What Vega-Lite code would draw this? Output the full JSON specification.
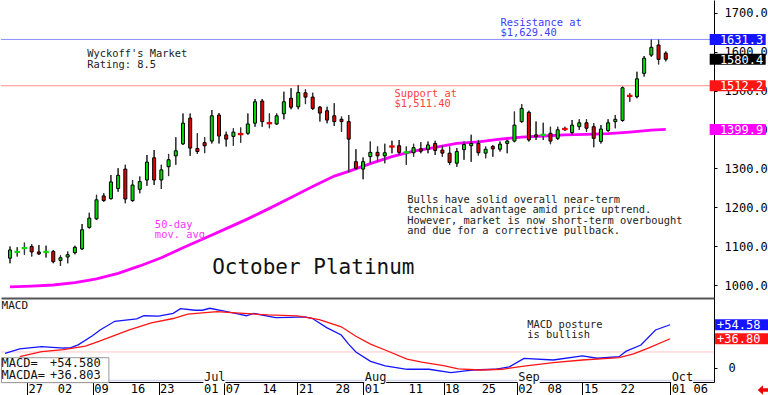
{
"$schema": "https://vega.github.io/schema/vega-lite/v6.json",
"padding": 0,
"background": "white",
"spacing": 0,
"bounds": "flush",
"config": {"view": {"stroke": null}, "font": "DejaVu Sans Mono", "axis": {"grid": false, "title": null, "labelOverlap": false}},
"datasets": {
"candles": [
{"d":0,"date":"2025-05-21","o":1069,"h":1099,"l":1056,"c":1090},
{"d":1,"date":"2025-05-22","o":1084,"h":1097,"l":1073,"c":1086},
{"d":2,"date":"2025-05-23","o":1094,"h":1109,"l":1078,"c":1096},
{"d":3,"date":"2025-05-27","o":1099,"h":1105,"l":1073,"c":1085},
{"d":4,"date":"2025-05-28","o":1085,"h":1103,"l":1077,"c":1080},
{"d":5,"date":"2025-05-29","o":1084,"h":1101,"l":1071,"c":1086},
{"d":6,"date":"2025-05-30","o":1086,"h":1090,"l":1056,"c":1060},
{"d":7,"date":"2025-06-02","o":1063,"h":1076,"l":1049,"c":1070},
{"d":8,"date":"2025-06-03","o":1072,"h":1086,"l":1056,"c":1078},
{"d":9,"date":"2025-06-04","o":1083,"h":1101,"l":1079,"c":1097},
{"d":10,"date":"2025-06-05","o":1093,"h":1157,"l":1090,"c":1142},
{"d":11,"date":"2025-06-06","o":1148,"h":1186,"l":1145,"c":1172},
{"d":12,"date":"2025-06-09","o":1170,"h":1232,"l":1167,"c":1219},
{"d":13,"date":"2025-06-10","o":1229,"h":1236,"l":1214,"c":1217},
{"d":14,"date":"2025-06-11","o":1222,"h":1283,"l":1220,"c":1265},
{"d":15,"date":"2025-06-12","o":1248,"h":1300,"l":1240,"c":1282},
{"d":16,"date":"2025-06-13","o":1298,"h":1309,"l":1210,"c":1221},
{"d":17,"date":"2025-06-16","o":1217,"h":1270,"l":1214,"c":1257},
{"d":18,"date":"2025-06-17","o":1246,"h":1279,"l":1236,"c":1266},
{"d":19,"date":"2025-06-18","o":1270,"h":1334,"l":1255,"c":1316},
{"d":20,"date":"2025-06-20","o":1327,"h":1347,"l":1257,"c":1270},
{"d":21,"date":"2025-06-23","o":1270,"h":1309,"l":1247,"c":1296},
{"d":22,"date":"2025-06-24","o":1304,"h":1337,"l":1280,"c":1322},
{"d":23,"date":"2025-06-25","o":1332,"h":1380,"l":1309,"c":1345},
{"d":24,"date":"2025-06-26","o":1363,"h":1441,"l":1360,"c":1416},
{"d":25,"date":"2025-06-27","o":1429,"h":1441,"l":1332,"c":1352},
{"d":26,"date":"2025-06-30","o":1351,"h":1390,"l":1337,"c":1343},
{"d":27,"date":"2025-07-01","o":1366,"h":1380,"l":1339,"c":1358},
{"d":28,"date":"2025-07-02","o":1370,"h":1450,"l":1364,"c":1435},
{"d":29,"date":"2025-07-03","o":1437,"h":1442,"l":1364,"c":1383},
{"d":30,"date":"2025-07-07","o":1386,"h":1394,"l":1356,"c":1375},
{"d":31,"date":"2025-07-08","o":1382,"h":1403,"l":1358,"c":1393},
{"d":32,"date":"2025-07-09","o":1389,"h":1405,"l":1366,"c":1387},
{"d":33,"date":"2025-07-10","o":1390,"h":1441,"l":1386,"c":1414},
{"d":34,"date":"2025-07-11","o":1416,"h":1478,"l":1407,"c":1471},
{"d":35,"date":"2025-07-14","o":1473,"h":1478,"l":1407,"c":1420},
{"d":36,"date":"2025-07-15","o":1417,"h":1441,"l":1403,"c":1415},
{"d":37,"date":"2025-07-16","o":1414,"h":1441,"l":1411,"c":1435},
{"d":38,"date":"2025-07-17","o":1440,"h":1497,"l":1426,"c":1471},
{"d":39,"date":"2025-07-18","o":1480,"h":1506,"l":1452,"c":1457},
{"d":40,"date":"2025-07-21","o":1458,"h":1514,"l":1452,"c":1495},
{"d":41,"date":"2025-07-22","o":1494,"h":1503,"l":1465,"c":1483},
{"d":42,"date":"2025-07-23","o":1483,"h":1494,"l":1450,"c":1454},
{"d":43,"date":"2025-07-24","o":1457,"h":1460,"l":1420,"c":1442},
{"d":44,"date":"2025-07-25","o":1448,"h":1458,"l":1416,"c":1424},
{"d":45,"date":"2025-07-28","o":1435,"h":1467,"l":1409,"c":1420},
{"d":46,"date":"2025-07-29","o":1426,"h":1433,"l":1394,"c":1420},
{"d":47,"date":"2025-07-30","o":1420,"h":1437,"l":1290,"c":1375},
{"d":48,"date":"2025-07-31","o":1317,"h":1349,"l":1296,"c":1300},
{"d":49,"date":"2025-08-01","o":1298,"h":1328,"l":1272,"c":1317},
{"d":50,"date":"2025-08-04","o":1330,"h":1369,"l":1313,"c":1341},
{"d":51,"date":"2025-08-05","o":1341,"h":1356,"l":1317,"c":1332},
{"d":52,"date":"2025-08-06","o":1332,"h":1363,"l":1313,"c":1340},
{"d":53,"date":"2025-08-07","o":1357,"h":1371,"l":1339,"c":1355},
{"d":54,"date":"2025-08-08","o":1358,"h":1373,"l":1334,"c":1341},
{"d":55,"date":"2025-08-11","o":1340,"h":1356,"l":1309,"c":1342},
{"d":56,"date":"2025-08-12","o":1340,"h":1363,"l":1330,"c":1353},
{"d":57,"date":"2025-08-13","o":1350,"h":1367,"l":1339,"c":1344},
{"d":58,"date":"2025-08-14","o":1349,"h":1369,"l":1339,"c":1360},
{"d":59,"date":"2025-08-15","o":1364,"h":1371,"l":1334,"c":1346},
{"d":60,"date":"2025-08-18","o":1347,"h":1358,"l":1330,"c":1339},
{"d":61,"date":"2025-08-19","o":1339,"h":1356,"l":1309,"c":1315},
{"d":62,"date":"2025-08-20","o":1313,"h":1352,"l":1304,"c":1343},
{"d":63,"date":"2025-08-21","o":1348,"h":1369,"l":1322,"c":1361},
{"d":64,"date":"2025-08-22","o":1358,"h":1386,"l":1317,"c":1364},
{"d":65,"date":"2025-08-25","o":1364,"h":1373,"l":1333,"c":1340},
{"d":66,"date":"2025-08-26","o":1339,"h":1356,"l":1326,"c":1349},
{"d":67,"date":"2025-08-27","o":1356,"h":1360,"l":1330,"c":1350},
{"d":68,"date":"2025-08-28","o":1349,"h":1369,"l":1343,"c":1362},
{"d":69,"date":"2025-08-29","o":1364,"h":1373,"l":1339,"c":1370},
{"d":70,"date":"2025-09-02","o":1370,"h":1446,"l":1367,"c":1411},
{"d":71,"date":"2025-09-03","o":1420,"h":1465,"l":1417,"c":1454},
{"d":72,"date":"2025-09-04","o":1444,"h":1448,"l":1369,"c":1373},
{"d":73,"date":"2025-09-05","o":1386,"h":1420,"l":1373,"c":1381},
{"d":74,"date":"2025-09-08","o":1385,"h":1417,"l":1373,"c":1387},
{"d":75,"date":"2025-09-09","o":1390,"h":1407,"l":1362,"c":1370},
{"d":76,"date":"2025-09-10","o":1377,"h":1407,"l":1373,"c":1399},
{"d":77,"date":"2025-09-11","o":1402,"h":1407,"l":1396,"c":1400},
{"d":78,"date":"2025-09-12","o":1392,"h":1424,"l":1386,"c":1411},
{"d":79,"date":"2025-09-15","o":1407,"h":1426,"l":1399,"c":1417},
{"d":80,"date":"2025-09-16","o":1417,"h":1426,"l":1394,"c":1403},
{"d":81,"date":"2025-09-17","o":1407,"h":1416,"l":1354,"c":1377},
{"d":82,"date":"2025-09-18","o":1369,"h":1411,"l":1364,"c":1401},
{"d":83,"date":"2025-09-19","o":1397,"h":1426,"l":1394,"c":1417},
{"d":84,"date":"2025-09-22","o":1420,"h":1437,"l":1403,"c":1426},
{"d":85,"date":"2025-09-23","o":1423,"h":1510,"l":1420,"c":1507},
{"d":86,"date":"2025-09-24","o":1487,"h":1493,"l":1471,"c":1485},
{"d":87,"date":"2025-09-25","o":1484,"h":1548,"l":1480,"c":1530},
{"d":88,"date":"2025-09-26","o":1544,"h":1589,"l":1536,"c":1583},
{"d":89,"date":"2025-09-29","o":1591,"h":1631.3,"l":1587,"c":1611},
{"d":90,"date":"2025-09-30","o":1617,"h":1631,"l":1567,"c":1580},
{"d":91,"date":"2025-10-01","o":1596,"h":1600,"l":1575,"c":1580.4}
],
"ma": [
{"d":0,"ma":995},{"d":3,"ma":997},{"d":6,"ma":1000},{"d":9,"ma":1006},{"d":12,"ma":1016},{"d":15,"ma":1030},{"d":18,"ma":1049},{"d":21,"ma":1070},{"d":24,"ma":1096},{"d":27,"ma":1120},{"d":30,"ma":1145},{"d":33,"ma":1170},{"d":36,"ma":1197},{"d":39,"ma":1225},{"d":42,"ma":1253},{"d":45,"ma":1280},{"d":47,"ma":1292},{"d":50,"ma":1312},{"d":53,"ma":1330},{"d":56,"ma":1344},{"d":59,"ma":1354},{"d":62,"ma":1364},{"d":65,"ma":1368},{"d":68,"ma":1375},{"d":71,"ma":1380},{"d":74,"ma":1383},{"d":77,"ma":1386},{"d":80,"ma":1387},{"d":83,"ma":1389},{"d":86,"ma":1393},{"d":89,"ma":1398},{"d":91,"ma":1399.9}
],
"macd": [
{"d":0,"s":"MACD","v":18.3},{"d":2,"s":"MACD","v":24},{"d":5,"s":"MACD","v":26.7},{"d":8,"s":"MACD","v":25},{"d":9,"s":"MACD","v":25.5},{"d":10,"s":"MACD","v":29},{"d":12,"s":"MACD","v":41},{"d":13,"s":"MACD","v":48},{"d":15,"s":"MACD","v":59},{"d":18,"s":"MACD","v":62},{"d":19,"s":"MACD","v":66},{"d":21,"s":"MACD","v":65.5},{"d":23,"s":"MACD","v":69},{"d":24,"s":"MACD","v":75},{"d":26,"s":"MACD","v":73},{"d":27,"s":"MACD","v":73},{"d":28,"s":"MACD","v":75.5},{"d":30,"s":"MACD","v":72},{"d":32,"s":"MACD","v":68},{"d":33,"s":"MACD","v":66},{"d":34,"s":"MACD","v":69},{"d":37,"s":"MACD","v":63.5},{"d":39,"s":"MACD","v":64},{"d":41,"s":"MACD","v":64.5},{"d":42,"s":"MACD","v":62.8},{"d":44,"s":"MACD","v":51},{"d":46,"s":"MACD","v":41.5},{"d":47,"s":"MACD","v":30},{"d":48,"s":"MACD","v":20},{"d":50,"s":"MACD","v":8},{"d":52,"s":"MACD","v":2.2},{"d":55,"s":"MACD","v":-2},{"d":58,"s":"MACD","v":-2},{"d":61,"s":"MACD","v":-6.3},{"d":63,"s":"MACD","v":-4},{"d":64,"s":"MACD","v":-2.9},{"d":67,"s":"MACD","v":-2},{"d":69,"s":"MACD","v":1},{"d":71,"s":"MACD","v":11.9},{"d":75,"s":"MACD","v":9.8},{"d":79,"s":"MACD","v":14.9},{"d":81,"s":"MACD","v":12},{"d":84,"s":"MACD","v":14},{"d":85,"s":"MACD","v":21},{"d":87,"s":"MACD","v":28.8},{"d":89,"s":"MACD","v":47.9},{"d":91,"s":"MACD","v":54.58},
{"d":2,"s":"MACDA","v":14},{"d":5,"s":"MACDA","v":20.3},{"d":8,"s":"MACDA","v":23},{"d":11,"s":"MACDA","v":27.5},{"d":13,"s":"MACDA","v":34},{"d":17,"s":"MACDA","v":48},{"d":20,"s":"MACDA","v":57},{"d":23,"s":"MACDA","v":62.5},{"d":25,"s":"MACDA","v":68},{"d":29,"s":"MACDA","v":71.2},{"d":31,"s":"MACDA","v":70},{"d":36,"s":"MACDA","v":67},{"d":40,"s":"MACDA","v":65.8},{"d":43,"s":"MACDA","v":61},{"d":46,"s":"MACDA","v":52},{"d":48,"s":"MACDA","v":40},{"d":50,"s":"MACDA","v":30},{"d":52,"s":"MACDA","v":22.5},{"d":55,"s":"MACDA","v":11},{"d":57,"s":"MACDA","v":7},{"d":60,"s":"MACDA","v":2.5},{"d":62,"s":"MACDA","v":-1.5},{"d":65,"s":"MACDA","v":-2.9},{"d":68,"s":"MACDA","v":-2},{"d":71,"s":"MACDA","v":2},{"d":75,"s":"MACDA","v":6.4},{"d":79,"s":"MACDA","v":9.8},{"d":84,"s":"MACDA","v":12.7},{"d":86,"s":"MACDA","v":17.5},{"d":88,"s":"MACDA","v":25},{"d":91,"s":"MACDA","v":36.8}
],
"ticks": [
{"d":3,"lab":"27"},{"d":7,"lab":"02"},{"d":12,"lab":"09"},{"d":17,"lab":"16"},{"d":21,"lab":"23"},{"d":27,"lab":"01"},{"d":30,"lab":"07"},{"d":35,"lab":"14"},{"d":40,"lab":"21"},{"d":45,"lab":"28"},{"d":49,"lab":"01"},{"d":55,"lab":"11"},{"d":60,"lab":"18"},{"d":65,"lab":"25"},{"d":70,"lab":"02"},{"d":74,"lab":"08"},{"d":79,"lab":"15"},{"d":84,"lab":"22"},{"d":91,"lab":"01"},{"d":94,"lab":"06"}
]
},
"vconcat": [
{
"width": 713, "height": 298,
"layer": [
{"data": {"name": "candles"},
 "mark": {"type": "rule", "color": "#333333", "strokeWidth": 1.2},
 "encoding": {
  "x": {"field": "d", "type": "quantitative", "scale": {"domain": [-0.56, 97.0], "nice": false, "zero": false},
        "axis": {"orient": "bottom", "labels": false, "ticks": false, "domain": true, "domainColor": "#555555", "domainWidth": 2, "title": null}},
  "y": {"field": "l", "type": "quantitative", "scale": {"domain": [966.6, 1732.65], "nice": false, "zero": false},
        "axis": {"orient": "right", "values": [1000,1100,1200,1300,1400,1500,1600,1700], "format": ".1f", "tickSize": 3, "labelPadding": 7, "domainColor": "black", "tickColor": "black", "labelFont": "DejaVu Sans Mono", "labelFontSize": 12, "labelColor": "black", "labelBaseline": "middle", "title": null}},
  "y2": {"field": "h"}
 }},
{"data": {"values": [{"name": "resistance", "v": 1631.3}, {"name": "support", "v": 1512.2}]},
 "mark": {"type": "rule", "strokeWidth": 1},
 "encoding": {
  "y": {"field": "v", "type": "quantitative"},
  "color": {"condition": {"test": "datum.name == 'resistance'", "value": "#8c8cff"}, "value": "#ff8c8c"}
 }},
{"data": {"name": "ma"},
 "mark": {"type": "line", "color": "#ff00ff", "strokeWidth": 2.8},
 "encoding": {"x": {"field": "d", "type": "quantitative"}, "y": {"field": "ma", "type": "quantitative"}}},
{"data": {"name": "candles"},
 "mark": {"type": "rule", "color": "#333333", "strokeWidth": 1.2},
 "encoding": {"x": {"field": "d", "type": "quantitative"}, "y": {"field": "l", "type": "quantitative"}, "y2": {"field": "h"}}},
{"data": {"name": "candles"},
 "transform": [{"filter": "abs(datum.o - datum.c) >= 3"}],
 "mark": {"type": "bar", "width": 3, "stroke": "black", "strokeWidth": 1},
 "encoding": {
  "x": {"field": "d", "type": "quantitative"},
  "y": {"field": "o", "type": "quantitative"}, "y2": {"field": "c"},
  "fill": {"condition": {"test": "datum.c >= datum.o", "value": "#00dc00"}, "value": "#e00000"}
 }},
{"data": {"name": "candles"},
 "transform": [{"filter": "abs(datum.o - datum.c) < 3"}],
 "mark": {"type": "bar", "width": 4, "strokeWidth": 1.5},
 "encoding": {
  "x": {"field": "d", "type": "quantitative"},
  "y": {"field": "o", "type": "quantitative"}, "y2": {"field": "c"},
  "fill": {"condition": {"test": "datum.c >= datum.o", "value": "#00dc00"}, "value": "#e00000"},
  "stroke": {"condition": {"test": "datum.c >= datum.o", "value": "#00dc00"}, "value": "#e00000"}
 }},
{"data": {"values": [{}]},
 "mark": {"type": "text", "align": "left", "baseline": "alphabetic", "font": "DejaVu Sans Mono", "fontSize": 10.4, "lineHeight": 10.4, "color": "#222222"},
 "encoding": {"x": {"datum": 10.7, "type": "quantitative"}, "y": {"datum": 1585.3, "type": "quantitative"}, "text": {"value": ["Wyckoff's Market", "Rating: 8.5"]}}},
{"data": {"values": [{}]},
 "mark": {"type": "text", "align": "left", "baseline": "alphabetic", "font": "DejaVu Sans Mono", "fontSize": 10.4, "lineHeight": 10, "color": "#3c3cff"},
 "encoding": {"x": {"datum": 68.07, "type": "quantitative"}, "y": {"datum": 1666.6, "type": "quantitative"}, "text": {"value": ["Resistance at", "$1,629.40"]}}},
{"data": {"values": [{}]},
 "mark": {"type": "text", "align": "left", "baseline": "alphabetic", "font": "DejaVu Sans Mono", "fontSize": 10.4, "lineHeight": 10.6, "color": "#ff4040"},
 "encoding": {"x": {"datum": 53.36, "type": "quantitative"}, "y": {"datum": 1484.1, "type": "quantitative"}, "text": {"value": ["Support at", "$1,511.40"]}}},
{"data": {"values": [{}]},
 "mark": {"type": "text", "align": "left", "baseline": "alphabetic", "font": "DejaVu Sans Mono", "fontSize": 10.4, "lineHeight": 10.2, "color": "#ff33ff"},
 "encoding": {"x": {"datum": 20.1, "type": "quantitative"}, "y": {"datum": 1147.3, "type": "quantitative"}, "text": {"value": ["50-day", "mov. avg"]}}},
{"data": {"values": [{}]},
 "mark": {"type": "text", "align": "left", "baseline": "alphabetic", "font": "DejaVu Sans Mono", "fontSize": 10.4, "lineHeight": 10.45, "color": "#222222"},
 "encoding": {"x": {"datum": 55.13, "type": "quantitative"}, "y": {"datum": 1211.6, "type": "quantitative"}, "text": {"value": ["Bulls have solid overall near-term", "technical advantage amid price uptrend.", "However, market is now short-term overbought", "and due for a corrective pullback."]}}},
{"data": {"values": [{}]},
 "mark": {"type": "text", "align": "left", "baseline": "alphabetic", "font": "DejaVu Sans Mono", "fontSize": 21, "color": "#111111"},
 "encoding": {"x": {"datum": 28.05, "type": "quantitative"}, "y": {"datum": 1028.3, "type": "quantitative"}, "text": {"value": "October Platinum"}}},
{"data": {"values": [{"name": "resistance", "v": 1631.3}, {"name": "last", "v": 1580.4}, {"name": "support", "v": 1512.2}, {"name": "ma50", "v": 1399.9}]},
 "mark": {"type": "tick", "orient": "horizontal", "thickness": 11, "opacity": 1},
 "encoding": {
  "x": {"datum": 100.98, "type": "quantitative"},
  "y": {"field": "v", "type": "quantitative"},
  "size": {"value": 56},
  "color": {"condition": [{"test": "datum.name == 'resistance'", "value": "#1414ff"}, {"test": "datum.name == 'last'", "value": "#000000"}, {"test": "datum.name == 'support'", "value": "#ff1414"}], "value": "#ff00ff"}
 }},
{"data": {"values": [{"name": "resistance", "v": 1631.3}, {"name": "last", "v": 1580.4}, {"name": "support", "v": 1512.2}, {"name": "ma50", "v": 1399.9}]},
 "mark": {"type": "text", "align": "left", "baseline": "middle", "dy": 0.5, "font": "DejaVu Sans Mono", "fontSize": 12, "color": "white"},
 "encoding": {
  "x": {"datum": 98.51, "type": "quantitative"},
  "y": {"field": "v", "type": "quantitative"},
  "text": {"field": "v", "type": "quantitative", "format": ".1f"}
 }}
]
},
{
"width": 713, "height": 84,
"layer": [
{"data": {"values": [{"v": 20}]},
 "mark": {"type": "rule", "color": "#ffc4c4", "strokeWidth": 1},
 "encoding": {"y": {"field": "v", "type": "quantitative", "scale": {"domain": [-18.17, 88.56], "nice": false, "zero": false},
   "axis": {"orient": "right", "values": [0], "tickSize": 3, "labelPadding": 11, "domainColor": "black", "tickColor": "black", "labelFont": "DejaVu Sans Mono", "labelFontSize": 12, "labelColor": "black", "labelBaseline": "middle", "title": null}}}},
{"data": {"values": [{"v": -16.3}]},
 "mark": {"type": "rule", "color": "#d4d4f2", "strokeWidth": 1.5},
 "encoding": {"y": {"field": "v", "type": "quantitative"}}},
{"data": {"name": "macd"},
 "mark": {"type": "line", "strokeWidth": 1.3},
 "encoding": {
  "x": {"field": "d", "type": "quantitative", "scale": {"domain": [-0.56, 97.0], "nice": false, "zero": false},
   "axis": {"orient": "bottom", "values": [3,7,12,17,21,27,30,35,40,45,49,55,60,65,70,74,79,84,91,94], "labels": false,
    "tickSize": 13, "tickColor": "black", "tickWidth": 1, "domainColor": "black", "domainWidth": 1, "title": null}},
  "y": {"field": "v", "type": "quantitative"},
  "color": {"field": "s", "type": "nominal", "scale": {"domain": ["MACD", "MACDA"], "range": ["#1414ff", "#ff1414"]}, "legend": null}
 }},
{"data": {"name": "ticks"},
 "mark": {"type": "text", "align": "left", "baseline": "alphabetic", "dx": 1.5, "font": "DejaVu Sans Mono", "fontSize": 12, "color": "black"},
 "encoding": {"x": {"field": "d", "type": "quantitative"}, "y": {"datum": -32.3, "type": "quantitative"}, "text": {"field": "lab"}}},
{"data": {"values": [{}]},
 "mark": {"type": "rect", "fill": "white", "stroke": "#999999", "strokeWidth": 1},
 "encoding": {"x": {"datum": -0.49, "type": "quantitative"}, "x2": {"datum": 14.2}, "y": {"datum": 12.7, "type": "quantitative"}, "y2": {"datum": -19.0}}},
{"data": {"values": [{}]},
 "mark": {"type": "text", "align": "left", "baseline": "alphabetic", "font": "DejaVu Sans Mono", "fontSize": 12, "lineHeight": 12.6, "color": "#111111"},
 "encoding": {"x": {"datum": -0.49, "type": "quantitative"}, "y": {"datum": 1.27, "type": "quantitative"}, "text": {"value": ["MACD=", "MACDA="]}}},
{"data": {"values": [{}]},
 "mark": {"type": "text", "align": "left", "baseline": "alphabetic", "font": "DejaVu Sans Mono", "fontSize": 12, "lineHeight": 12.6, "color": "#111111"},
 "encoding": {"x": {"datum": 6.15, "type": "quantitative"}, "y": {"datum": 1.27, "type": "quantitative"}, "text": {"value": ["+54.580", "+36.803"]}}},
{"data": {"values": [{}]},
 "mark": {"type": "text", "align": "left", "baseline": "alphabetic", "font": "DejaVu Sans Mono", "fontSize": 11, "color": "#111111"},
 "encoding": {"x": {"datum": -0.49, "type": "quantitative"}, "y": {"datum": 74.2, "type": "quantitative"}, "text": {"value": "MACD"}}},
{"data": {"values": [{"d": 27, "m": "Jul"}, {"d": 49, "m": "Aug"}, {"d": 70, "m": "Sep"}, {"d": 91, "m": "Oct"}]},
 "mark": {"type": "tick", "orient": "horizontal", "thickness": 6, "opacity": 1, "color": "white", "xOffset": 12},
 "encoding": {"x": {"field": "d", "type": "quantitative"}, "y": {"datum": -16.3, "type": "quantitative"}, "size": {"value": 22}}},
{"data": {"values": [{"d": 27, "m": "Jul"}, {"d": 49, "m": "Aug"}, {"d": 70, "m": "Sep"}, {"d": 91, "m": "Oct"}]},
 "mark": {"type": "text", "align": "left", "baseline": "alphabetic", "dx": 1.5, "font": "DejaVu Sans Mono", "fontSize": 12, "color": "#111111"},
 "encoding": {"x": {"field": "d", "type": "quantitative"}, "y": {"datum": -16.5, "type": "quantitative"}, "text": {"field": "m"}}},
{"data": {"values": [{}]},
 "mark": {"type": "text", "align": "left", "baseline": "alphabetic", "font": "DejaVu Sans Mono", "fontSize": 10.4, "lineHeight": 10.6, "color": "#222222"},
 "encoding": {"x": {"datum": 71.46, "type": "quantitative"}, "y": {"datum": 50.8, "type": "quantitative"}, "text": {"value": ["MACD posture", "is bullish"]}}},
{"data": {"values": [{"s": "MACD", "v": 54.58}, {"s": "MACDA", "v": 36.8}]},
 "mark": {"type": "tick", "orient": "horizontal", "thickness": 11, "opacity": 1},
 "encoding": {
  "x": {"datum": 100.98, "type": "quantitative"},
  "y": {"field": "v", "type": "quantitative"},
  "size": {"value": 56},
  "color": {"field": "s", "type": "nominal", "scale": {"domain": ["MACD", "MACDA"], "range": ["#1414ff", "#ff1414"]}, "legend": null}
 }},
{"data": {"values": [{"s": "MACD", "v": 54.58}, {"s": "MACDA", "v": 36.8}]},
 "mark": {"type": "text", "align": "left", "baseline": "middle", "dy": 0.5, "font": "DejaVu Sans Mono", "fontSize": 12, "color": "white"},
 "encoding": {
  "x": {"datum": 97.42, "type": "quantitative"},
  "y": {"field": "v", "type": "quantitative"},
  "text": {"field": "v", "type": "quantitative", "format": "+.2f"}
 }},
{"data": {"values": [{}]},
 "mark": {"type": "point", "shape": "M1,-0.35L0,-0.35L0,-0.9L-1,0L0,0.9L0,0.35L1,0.35Z", "filled": true, "color": "#ee0000", "opacity": 1, "size": 110},
 "encoding": {"x": {"datum": 103.7, "type": "quantitative"}, "y": {"datum": -28.3, "type": "quantitative"}}}
]
}
]
}
